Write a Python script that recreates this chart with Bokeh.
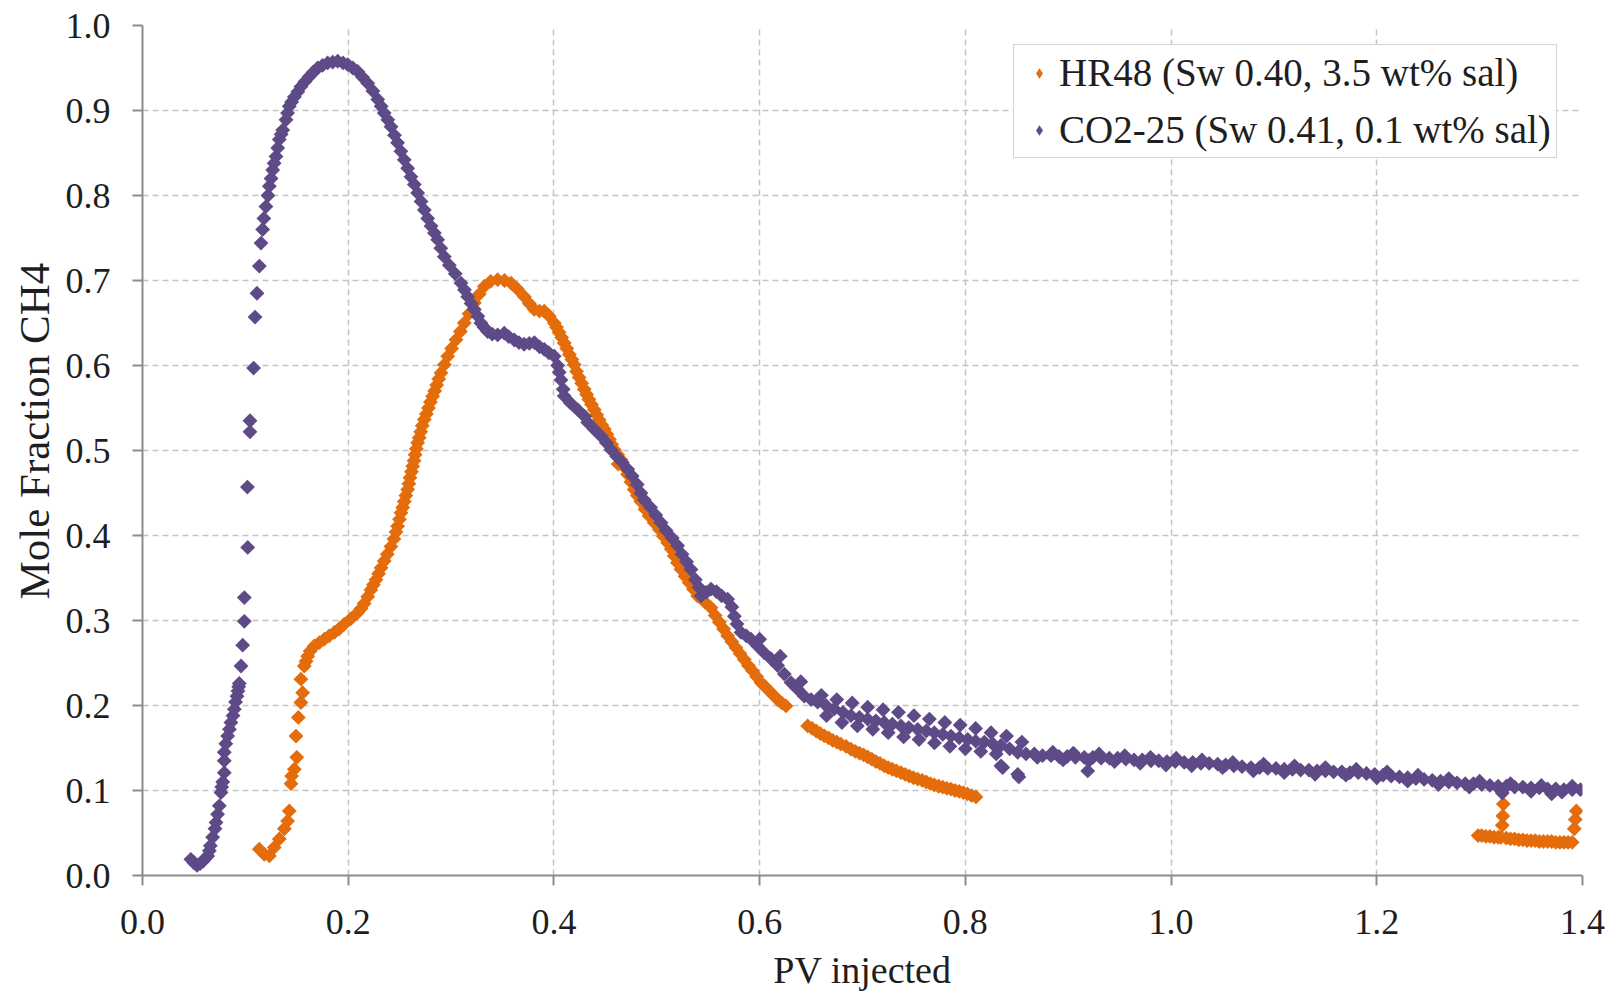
import math
from bokeh.plotting import figure
from bokeh.models import FixedTicker, PrintfTickFormatter, Legend, LegendItem, Title
from bokeh.embed import file_html
from bokeh.resources import INLINE

# ---------------- data ----------------
x_ticks = [0.0, 0.2, 0.4, 0.6, 0.8, 1.0, 1.2, 1.4]
y_ticks = [0.0, 0.1, 0.2, 0.3, 0.4, 0.5, 0.6, 0.7, 0.8, 0.9, 1.0]

series_names = ["HR48 (Sw 0.40, 3.5 wt% sal)", "CO2-25 (Sw 0.41, 0.1 wt% sal)"]

# HR48 (orange)
hr48_start = [(0.1135, 0.031), (0.1184, 0.025), (0.1233, 0.023), (0.1281, 0.033), (0.133, 0.043),
              (0.1379, 0.055), (0.1411, 0.064), (0.1427, 0.076), (0.1444, 0.108), (0.1450, 0.117),
              (0.1476, 0.125), (0.150, 0.139), (0.1492, 0.164), (0.1515, 0.186), (0.154, 0.2035),
              (0.1557, 0.215), (0.154, 0.231)]
hr48_main = [(0.1573, 0.2465), (0.159, 0.252), (0.1606, 0.258), (0.163, 0.264), (0.167, 0.270),
             (0.172, 0.274), (0.1768, 0.278), (0.1815, 0.282), (0.1865, 0.286), (0.191, 0.290),
             (0.196, 0.2955), (0.2025, 0.302), (0.209, 0.309), (0.2125, 0.314), (0.2155, 0.320),
             (0.219, 0.328), (0.222, 0.336), (0.2245, 0.342), (0.227, 0.348), (0.2295, 0.355),
             (0.232, 0.362), (0.235, 0.370), (0.238, 0.378), (0.2415, 0.387), (0.2445, 0.396),
             (0.2465, 0.404), (0.248, 0.411), (0.2498, 0.419), (0.2513, 0.4268), (0.253, 0.433),
             (0.2545, 0.440), (0.256, 0.447), (0.2578, 0.4542), (0.259, 0.461), (0.260, 0.468),
             (0.2615, 0.475), (0.2627, 0.4816), (0.264, 0.488), (0.265, 0.495), (0.2662, 0.502),
             (0.2675, 0.509), (0.269, 0.515), (0.2705, 0.522), (0.272, 0.529), (0.274, 0.5364),
             (0.276, 0.543), (0.278, 0.550), (0.280, 0.557), (0.2821, 0.5638), (0.284, 0.570),
             (0.286, 0.577), (0.288, 0.584), (0.2902, 0.5913), (0.2935, 0.601), (0.2967, 0.6108),
             (0.3005, 0.620), (0.3048, 0.6304), (0.309, 0.640), (0.3129, 0.650), (0.3175, 0.661),
             (0.3226, 0.6735), (0.3275, 0.684), (0.3323, 0.693), (0.3385, 0.699), (0.3453, 0.701),
             (0.352, 0.700), (0.3583, 0.697), (0.3645, 0.690), (0.3712, 0.681), (0.376, 0.673),
             (0.3809, 0.666), (0.386, 0.664), (0.3906, 0.664), (0.3955, 0.658), (0.4003, 0.650),
             (0.4025, 0.645), (0.405, 0.639), (0.4075, 0.633), (0.410, 0.6265), (0.4125, 0.620),
             (0.415, 0.613), (0.4175, 0.607), (0.4198, 0.601), (0.422, 0.593), (0.4245, 0.586),
             (0.427, 0.579), (0.4295, 0.572), (0.4318, 0.566), (0.434, 0.560), (0.4365, 0.554),
             (0.4392, 0.548), (0.4415, 0.542), (0.444, 0.536), (0.4465, 0.530), (0.449, 0.525),
             (0.4515, 0.519), (0.454, 0.513), (0.4562, 0.507), (0.4587, 0.501), (0.4625, 0.484),
             (0.462, 0.495), (0.4652, 0.489), (0.468, 0.481), (0.4715, 0.472), (0.4748, 0.463),
             (0.478, 0.454), (0.481, 0.447), (0.4845, 0.440), (0.4885, 0.431), (0.4925, 0.423),
             (0.4975, 0.415), (0.5025, 0.407), (0.5065, 0.399), (0.5106, 0.3915), (0.514, 0.384),
             (0.517, 0.376), (0.520, 0.368), (0.5235, 0.3602), (0.5275, 0.352), (0.5315, 0.3445),
             (0.5355, 0.337), (0.5398, 0.3288), (0.5465, 0.322), (0.5527, 0.315), (0.5568, 0.306),
             (0.5608, 0.298), (0.565, 0.290), (0.5689, 0.282), (0.573, 0.275), (0.577, 0.268),
             (0.581, 0.261), (0.5851, 0.254), (0.589, 0.247), (0.593, 0.241), (0.597, 0.234),
             (0.6013, 0.227), (0.6055, 0.222), (0.6095, 0.217), (0.6135, 0.212), (0.6175, 0.207),
             (0.6215, 0.203), (0.6256, 0.1995)]
hr48_mid = [(0.6467, 0.176), (0.651, 0.173), (0.655, 0.170), (0.659, 0.167), (0.6629, 0.1643),
            (0.667, 0.162), (0.671, 0.159), (0.675, 0.157), (0.679, 0.1545), (0.684, 0.152),
            (0.6888, 0.1486), (0.693, 0.146), (0.697, 0.144), (0.701, 0.142), (0.705, 0.1395),
            (0.709, 0.137), (0.713, 0.134), (0.717, 0.132), (0.7212, 0.129), (0.725, 0.127),
            (0.729, 0.125), (0.733, 0.123), (0.7374, 0.121), (0.7415, 0.119), (0.7455, 0.117),
            (0.7495, 0.115), (0.7537, 0.1134), (0.758, 0.112), (0.762, 0.110), (0.766, 0.108),
            (0.7698, 0.1065), (0.774, 0.105), (0.778, 0.104), (0.782, 0.1025), (0.786, 0.1016),
            (0.790, 0.100), (0.794, 0.099), (0.798, 0.0975), (0.802, 0.096), (0.806, 0.094),
            (0.8103, 0.0925)]
hr48_end = [(1.2985, 0.047), (1.302, 0.047), (1.306, 0.046), (1.310, 0.046), (1.314, 0.045),
            (1.318, 0.045), (1.3207, 0.045), (1.322, 0.059), (1.3225, 0.070), (1.323, 0.084),
            (1.326, 0.044), (1.330, 0.043), (1.334, 0.043), (1.338, 0.042), (1.342, 0.042),
            (1.346, 0.041), (1.350, 0.041), (1.354, 0.041), (1.358, 0.040), (1.362, 0.040),
            (1.366, 0.040), (1.370, 0.040), (1.374, 0.039), (1.378, 0.039), (1.382, 0.039),
            (1.386, 0.039), (1.390, 0.039), (1.392, 0.055), (1.393, 0.066), (1.394, 0.076)]

# CO2-25 (purple)
co2_rise = [(0.047, 0.019), (0.050, 0.015), (0.053, 0.012), (0.056, 0.014), (0.059, 0.017),
            (0.061, 0.020), (0.0634, 0.023), (0.065, 0.029), (0.066, 0.035), (0.0682, 0.045),
            (0.0705, 0.055), (0.0715, 0.0625), (0.073, 0.072), (0.0747, 0.082), (0.0763, 0.0977),
            (0.077, 0.104), (0.078, 0.110), (0.0795, 0.121), (0.0795, 0.135), (0.0795, 0.145),
            (0.081, 0.155), (0.0828, 0.164), (0.0845, 0.172), (0.086, 0.180), (0.088, 0.188),
            (0.0893, 0.1957), (0.0905, 0.204), (0.0919, 0.211), (0.0928, 0.217), (0.0935, 0.222),
            (0.0941, 0.226), (0.0958, 0.2465), (0.0974, 0.271), (0.099, 0.299), (0.099, 0.327),
            (0.1023, 0.386), (0.102, 0.457), (0.1045, 0.522), (0.1045, 0.535), (0.108, 0.597),
            (0.1094, 0.657), (0.1113, 0.685), (0.1136, 0.717), (0.1152, 0.744), (0.1168, 0.760)]
co2_peak = [(0.118, 0.773), (0.120, 0.787), (0.122, 0.800), (0.1233, 0.811), (0.125, 0.820),
            (0.1266, 0.830), (0.128, 0.838), (0.1298, 0.846), (0.1315, 0.856), (0.133, 0.866),
            (0.1348, 0.872), (0.1363, 0.877), (0.1395, 0.889), (0.141, 0.897), (0.1427, 0.905),
            (0.145, 0.910), (0.1476, 0.916), (0.151, 0.922), (0.154, 0.928), (0.158, 0.934),
            (0.1622, 0.940), (0.166, 0.945), (0.1703, 0.950), (0.175, 0.953), (0.180, 0.956),
            (0.185, 0.957), (0.1898, 0.958), (0.195, 0.956), (0.1995, 0.954), (0.2045, 0.950),
            (0.2092, 0.946), (0.214, 0.939), (0.219, 0.932), (0.224, 0.923), (0.2287, 0.913),
            (0.232, 0.905), (0.235, 0.897), (0.2385, 0.889), (0.2416, 0.881), (0.245, 0.871),
            (0.248, 0.862), (0.2512, 0.852), (0.2545, 0.842), (0.2578, 0.832), (0.261, 0.822),
            (0.2643, 0.813), (0.2675, 0.803), (0.2708, 0.793), (0.274, 0.783), (0.2773, 0.773),
            (0.2805, 0.764), (0.2838, 0.756), (0.287, 0.748), (0.290, 0.738), (0.2934, 0.728),
            (0.2983, 0.718), (0.304, 0.708), (0.3096, 0.697), (0.313, 0.689), (0.3162, 0.681),
            (0.3195, 0.673), (0.3226, 0.666), (0.326, 0.658), (0.329, 0.650), (0.332, 0.645),
            (0.3356, 0.640), (0.340, 0.637), (0.3453, 0.636), (0.3517, 0.638), (0.356, 0.634),
            (0.3615, 0.630), (0.366, 0.627), (0.371, 0.625), (0.376, 0.626), (0.381, 0.627),
            (0.386, 0.622), (0.3906, 0.619), (0.395, 0.615), (0.4003, 0.611), (0.4036, 0.600),
            (0.4052, 0.592), (0.4069, 0.583), (0.409, 0.572), (0.410, 0.564), (0.416, 0.556),
            (0.4231, 0.548), (0.430, 0.540), (0.4328, 0.533), (0.4392, 0.525), (0.4458, 0.517),
            (0.451, 0.509), (0.4555, 0.501), (0.461, 0.493), (0.4665, 0.486), (0.4717, 0.478),
            (0.476, 0.470), (0.481, 0.460), (0.4846, 0.450), (0.4878, 0.442), (0.494, 0.433),
            (0.499, 0.424), (0.5041, 0.415), (0.509, 0.406), (0.515, 0.397), (0.5203, 0.388),
            (0.5245, 0.378), (0.529, 0.369), (0.5333, 0.360), (0.5375, 0.348), (0.541, 0.339),
            (0.543, 0.329), (0.548, 0.333), (0.5527, 0.337), (0.558, 0.334), (0.563, 0.329),
            (0.5689, 0.325), (0.573, 0.316), (0.5754, 0.305), (0.578, 0.296), (0.5819, 0.286),
            (0.587, 0.282), (0.5916, 0.278), (0.598, 0.270), (0.6045, 0.262), (0.611, 0.255),
            (0.6175, 0.247), (0.624, 0.237), (0.6305, 0.227), (0.637, 0.219), (0.6434, 0.211),
            (0.650, 0.207), (0.6564, 0.204), (0.6645, 0.200), (0.6726, 0.196)]
co2_tail = [(0.681, 0.192), (0.6888, 0.188), (0.697, 0.186), (0.705, 0.184), (0.713, 0.182),
            (0.7212, 0.180), (0.729, 0.178), (0.7374, 0.176), (0.745, 0.174), (0.7536, 0.172),
            (0.762, 0.170), (0.7698, 0.168), (0.778, 0.166), (0.786, 0.164), (0.794, 0.162),
            (0.8023, 0.160), (0.810, 0.158), (0.8184, 0.157), (0.8265, 0.155), (0.8346, 0.153),
            (0.843, 0.149), (0.8509, 0.145), (0.859, 0.143), (0.867, 0.143), (0.875, 0.141),
            (0.8833, 0.141), (0.891, 0.140), (0.899, 0.140), (0.907, 0.139), (0.9156, 0.139),
            (0.924, 0.139), (0.932, 0.138), (0.940, 0.138), (0.948, 0.138), (0.956, 0.137),
            (0.964, 0.136), (0.972, 0.136), (0.9805, 0.135), (0.988, 0.135), (0.996, 0.134),
            (1.004, 0.134), (1.0128, 0.133), (1.021, 0.133), (1.029, 0.132), (1.037, 0.132),
            (1.0453, 0.131), (1.053, 0.130), (1.061, 0.129), (1.069, 0.128), (1.0777, 0.127),
            (1.086, 0.127), (1.094, 0.126), (1.102, 0.126), (1.110, 0.125), (1.118, 0.125),
            (1.126, 0.124), (1.134, 0.124), (1.142, 0.123), (1.150, 0.123), (1.158, 0.122),
            (1.166, 0.122), (1.174, 0.121), (1.182, 0.121), (1.190, 0.120), (1.198, 0.119),
            (1.206, 0.118), (1.214, 0.117), (1.222, 0.116), (1.230, 0.115), (1.238, 0.114),
            (1.246, 0.113), (1.254, 0.112), (1.262, 0.111), (1.270, 0.110), (1.278, 0.109),
            (1.286, 0.108), (1.294, 0.108), (1.302, 0.107), (1.310, 0.106), (1.318, 0.105),
            (1.326, 0.105), (1.334, 0.104), (1.342, 0.104), (1.350, 0.103), (1.358, 0.103),
            (1.366, 0.102), (1.374, 0.102), (1.382, 0.101), (1.390, 0.101), (1.398, 0.101)]
co2_band_upper = [(0.60, 0.278), (0.62, 0.258), (0.64, 0.228), (0.66, 0.212), (0.675, 0.207),
                  (0.69, 0.203), (0.705, 0.198), (0.72, 0.195), (0.735, 0.192), (0.75, 0.188),
                  (0.765, 0.184), (0.78, 0.180), (0.795, 0.177), (0.81, 0.173), (0.825, 0.168),
                  (0.84, 0.164), (0.855, 0.157), (0.885, 0.145), (0.905, 0.144), (0.93, 0.143),
                  (0.955, 0.141), (0.98, 0.139), (1.005, 0.138), (1.03, 0.136), (1.06, 0.133),
                  (1.09, 0.131), (1.12, 0.129), (1.15, 0.127), (1.18, 0.125), (1.21, 0.122),
                  (1.24, 0.118), (1.27, 0.114), (1.30, 0.111), (1.33, 0.108), (1.36, 0.106),
                  (1.39, 0.105)]
co2_band_lower = [(0.665, 0.188), (0.68, 0.180), (0.695, 0.176), (0.71, 0.172), (0.725, 0.168),
                  (0.74, 0.163), (0.755, 0.160), (0.77, 0.156), (0.785, 0.152), (0.80, 0.149),
                  (0.815, 0.146), (0.83, 0.143), (0.87, 0.139), (0.895, 0.136), (0.92, 0.135),
                  (0.945, 0.134), (0.97, 0.132), (0.995, 0.130), (1.02, 0.129), (1.05, 0.127),
                  (1.08, 0.123), (1.11, 0.121), (1.14, 0.119), (1.17, 0.118), (1.20, 0.115),
                  (1.23, 0.111), (1.26, 0.107), (1.29, 0.104), (1.32, 0.101), (1.35, 0.099),
                  (1.38, 0.098)]
co2_outliers = [(0.8346, 0.129), (0.8363, 0.127), (0.8509, 0.119), (0.8520, 0.116),
                (0.919, 0.123), (1.322, 0.097), (1.370, 0.096)]

# ---------------- assemble ----------------
hr48_pts = hr48_start + hr48_main + hr48_mid + hr48_end
co2_pts = co2_rise + co2_peak + co2_tail + co2_band_upper + co2_band_lower + co2_outliers
hr48_x = [a for a, b in hr48_pts]
hr48_y = [b for a, b in hr48_pts]
co2_x = [a for a, b in co2_pts]
co2_y = [b for a, b in co2_pts]

ORANGE = "#E46C0A"
PURPLE = "#5D4A86"
FONT = "Liberation Serif"
TEXT = "#1e1e1e"

p = figure(width=1605, height=993, output_backend="svg", toolbar_location=None,
           x_range=(0, 1.4), y_range=(0, 1.0),
           min_border_left=142, min_border_right=23, min_border_top=25, min_border_bottom=116)
p.outline_line_color = None
p.background_fill_color = "white"
p.border_fill_color = "white"

# legend swatches: first point of each series drawn as a small diamond (hidden under the data marks)
lg_hr = p.scatter(hr48_x[:1], hr48_y[:1], marker="diamond", size=6, fill_color=ORANGE, line_color=None)
lg_co = p.scatter(co2_x[:1], co2_y[:1], marker="diamond", size=6, fill_color=PURPLE, line_color=None)

r_hr = p.scatter(hr48_x, hr48_y, marker="square", size=10.5, angle=math.pi / 4,
                 fill_color=ORANGE, line_color=None)
r_co = p.scatter(co2_x, co2_y, marker="square", size=10.5, angle=math.pi / 4,
                 fill_color=PURPLE, line_color=None)

p.xaxis.ticker = FixedTicker(ticks=x_ticks)
p.yaxis.ticker = FixedTicker(ticks=y_ticks)
p.xaxis.formatter = PrintfTickFormatter(format="%.1f")
p.yaxis.formatter = PrintfTickFormatter(format="%.1f")
p.xaxis.axis_label = "PV injected"

for ax in (p.xaxis, p.yaxis):
    ax.axis_line_color = "#8c8c8c"
    ax.axis_line_width = 2
    ax.major_tick_line_color = "#8c8c8c"
    ax.major_tick_line_width = 2
    ax.major_tick_out = 10
    ax.major_tick_in = 0
    ax.minor_tick_out = 0
    ax.minor_tick_in = 0
    ax.major_label_text_font = FONT
    ax.major_label_text_font_size = "36px"
    ax.major_label_text_color = TEXT
    ax.axis_label_text_font = FONT
    ax.axis_label_text_font_style = "normal"
    ax.axis_label_text_color = TEXT
p.xaxis.major_label_standoff = 24
p.yaxis.major_label_standoff = 22
p.xaxis.axis_label_text_font_size = "38px"
p.xaxis.axis_label_standoff = 12

# y-axis title as a side title, shifted (like the original) a little above the frame middle
ytitle = Title(text="Mole Fraction CH4", align="left", offset=276, standoff=9,
               text_font=FONT, text_font_size="43px", text_font_style="normal",
               text_color=TEXT)
p.add_layout(ytitle, "left")

for g in (p.xgrid, p.ygrid):
    g.grid_line_color = "#c4c4c4"
    g.grid_line_dash = "6 4"
    g.grid_line_width = 1.5

legend = Legend(items=[LegendItem(label=series_names[0], renderers=[lg_hr]),
                       LegendItem(label=series_names[1], renderers=[lg_co])],
                location=(871, 717))
legend.label_text_font = FONT
legend.label_text_font_size = "39px"
legend.label_text_color = TEXT
legend.border_line_color = "#a8a8a8"
legend.border_line_width = 1.5
legend.background_fill_color = "white"
legend.background_fill_alpha = 1.0
legend.padding = 5
legend.spacing = 12
legend.margin = 0
legend.glyph_width = 40
legend.glyph_height = 26
legend.label_standoff = 0
p.add_layout(legend)

open("out.html", "w").write(file_html(p, INLINE))
